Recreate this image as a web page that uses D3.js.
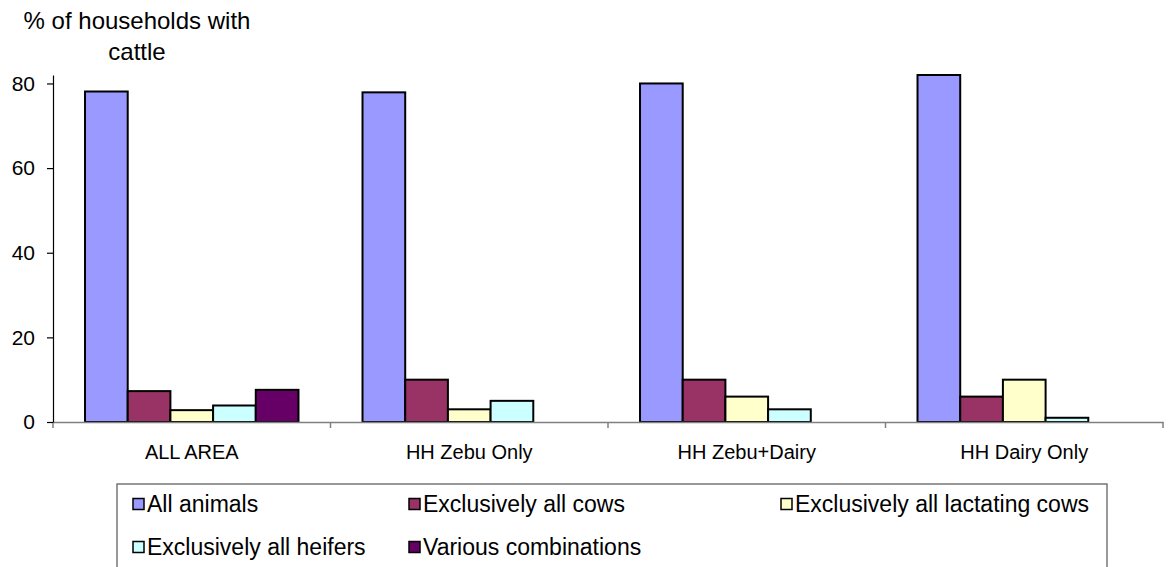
<!DOCTYPE html>
<html>
<head>
<meta charset="utf-8">
<script src="https://cdn.jsdelivr.net/npm/d3@7"></script>
<style>
  html, body { margin: 0; padding: 0; background: #fff; }
  svg { display: block; font-family: "Liberation Sans", Arial, sans-serif; }
</style>
</head>
<body>
<svg id="chart" width="1168" height="567"></svg>
<script>
// Household groups along the x axis
const categories = ["ALL AREA", "HH Zebu Only", "HH Zebu+Dairy", "HH Dairy Only"];

// Series names, in legend order
const seriesNames = [
  "All animals",
  "Exclusively all cows",
  "Exclusively all lactating cows",
  "Exclusively all heifers",
  "Various combinations"
];

// Percentage of households per series (one value per category; null = not present)
const allAnimals      = [78.1, 77.9, 80, 82];
const allCows         = [7.3, 10, 10, 6];
const lactatingCows   = [2.8, 3, 6, 10];
const heifers         = [3.9, 5, 3, 1];
const variousCombos   = [7.6, null, null, null];

const seriesColors = ["#9999FF", "#993366", "#FFFFCC", "#CCFFFF", "#660066"];
const yTicks = [0, 20, 40, 60, 80];
const yMax = 82;

const seriesValues = [allAnimals, allCows, lactatingCows, heifers, variousCombos];

const svg = d3.select("#chart");

const plot = { left: 53, right: 1163, top: 75, bottom: 422 };

const x0 = d3.scaleBand()
  .domain(categories)
  .range([plot.left, plot.right])
  .paddingInner(0)
  .paddingOuter(0);

const x1 = d3.scaleBand()
  .domain(d3.range(seriesNames.length))
  .range([0, x0.bandwidth()])
  .paddingInner(0)
  .paddingOuter(0.75);

const y = d3.scaleLinear()
  .domain([0, yMax])
  .range([plot.bottom, plot.top]);

// Bars
const groups = svg.append("g")
  .selectAll("g")
  .data(categories)
  .join("g")
  .attr("transform", d => `translate(${x0(d)},0)`);

groups.selectAll("rect")
  .data((d, ci) => seriesValues.map((vals, si) => ({ si, v: vals[ci] })).filter(e => e.v != null))
  .join("rect")
  .attr("x", d => x1(d.si))
  .attr("y", d => y(d.v))
  .attr("width", x1.bandwidth())
  .attr("height", d => y(0) - y(d.v))
  .attr("fill", d => seriesColors[d.si])
  .attr("stroke", "#000")
  .attr("stroke-width", 2);

// X axis (category axis at zero)
const xAxis = d3.axisBottom(x0)
  .tickSize(0)
  .tickPadding(23);
const gx = svg.append("g")
  .attr("transform", `translate(0,${plot.bottom})`)
  .call(xAxis);
gx.select(".domain").attr("stroke", "#808080").attr("stroke-width", 1.5);
gx.selectAll(".tick text")
  .attr("font-size", 20)
  .attr("fill", "#000")
  .attr("font-family", "Liberation Sans, Arial, sans-serif");

// Category boundary tick marks
const bounds = categories.map(c => x0(c)).concat([plot.right]);
svg.append("g").selectAll("line")
  .data(bounds)
  .join("line")
  .attr("x1", d => d).attr("x2", d => d)
  .attr("y1", plot.bottom).attr("y2", plot.bottom + 6)
  .attr("stroke", "#808080").attr("stroke-width", 1.5);

// Y axis
const yAxis = d3.axisLeft(y)
  .tickValues(yTicks)
  .tickSize(6)
  .tickPadding(12)
  .tickSizeOuter(0);
const gy = svg.append("g")
  .attr("transform", `translate(${plot.left},0)`)
  .call(yAxis);
gy.select(".domain").attr("stroke", "#000").attr("stroke-width", 1.2);
gy.selectAll(".tick line").attr("stroke", "#000").attr("stroke-width", 1.2);
gy.selectAll(".tick text")
  .attr("font-size", 21)
  .attr("fill", "#000")
  .attr("font-family", "Liberation Sans, Arial, sans-serif");

// Axis title (two lines)
const title = svg.append("text")
  .attr("text-anchor", "middle")
  .attr("font-size", 24)
  .attr("fill", "#000");
title.append("tspan").attr("x", 137).attr("y", 29).text("% of households with");
title.append("tspan").attr("x", 137).attr("y", 60).text("cattle");

// Legend
const legend = svg.append("g");
legend.append("rect")
  .attr("x", 117).attr("y", 484)
  .attr("width", 990).attr("height", 90)
  .attr("fill", "#fff")
  .attr("stroke", "#555")
  .attr("stroke-width", 1.2);

const legendPos = [
  { x: 133, y: 504 },
  { x: 409, y: 504 },
  { x: 781, y: 504 },
  { x: 133, y: 547 },
  { x: 409, y: 547 }
];

const items = legend.selectAll("g.item")
  .data(seriesNames)
  .join("g")
  .attr("class", "item")
  .attr("transform", (d, i) => `translate(${legendPos[i].x},${legendPos[i].y})`);

items.append("rect")
  .attr("x", 0).attr("y", -5.5)
  .attr("width", 11).attr("height", 11)
  .attr("fill", (d, i) => seriesColors[i])
  .attr("stroke", "#000")
  .attr("stroke-width", 1.5);

items.append("text")
  .attr("x", 14)
  .attr("y", 8)
  .attr("font-size", 23)
  .attr("fill", "#000")
  .text(d => d);
</script>
</body>
</html>
